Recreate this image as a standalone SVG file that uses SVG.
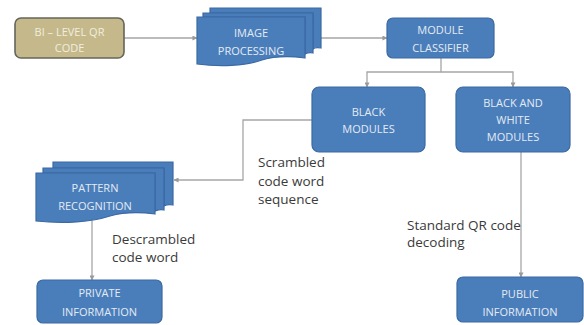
<svg xmlns="http://www.w3.org/2000/svg" width="584" height="325" viewBox="0 0 584 325">
  <defs>
    <marker id="arr" viewBox="0 0 6 6" refX="5.5" refY="3" markerWidth="5" markerHeight="5" orient="auto" markerUnits="userSpaceOnUse">
      <path d="M0,0 L6,3 L0,6 Z" fill="#9a9a9a"/>
    </marker>
  </defs>
  <style>
    .blue { fill: #4a7ebb; stroke: #3a69a3; stroke-width: 1.2; }
    .tan { fill: #c5b98c; stroke: #66655a; stroke-width: 1.6; }
    .ntxt { font-family: "Open Sans", "Liberation Sans", sans-serif; font-size: 11px; fill: #e4eaf3; text-anchor: middle; }
    .ttxt { font-family: "Open Sans", "Liberation Sans", sans-serif; font-size: 11px; fill: #f1eedd; text-anchor: middle; }
    .lbl { font-family: "Open Sans", "Liberation Sans", sans-serif; font-size: 13.5px; fill: #3a3a3a; }
    .conn { fill: none; stroke: #a6a6a6; stroke-width: 1.3; }
  </style>
  <rect width="584" height="325" fill="#ffffff"/>

  <!-- connectors -->
  <g id="connectors">
    <path class="conn" d="M124,38 H197" marker-end="url(#arr)"/>
    <path class="conn" d="M321,38 H387" marker-end="url(#arr)"/>
    <path class="conn" d="M441,58 V72 H367 V87" marker-end="url(#arr)"/>
    <path class="conn" d="M441,72 H513 V87" marker-end="url(#arr)"/>
    <path class="conn" d="M312,120 H243 V180 H174" marker-end="url(#arr)"/>
    <path class="conn" d="M92,220 V280" marker-end="url(#arr)"/>
    <path class="conn" d="M521,152 V277" marker-end="url(#arr)"/>
  </g>

  <!-- source code -->
  <g id="bilevel">
    <rect class="tan" x="15" y="18" width="109" height="40" rx="6"/>
    <text class="ttxt" x="69.5" y="36">BI – LEVEL QR</text>
    <text class="ttxt" x="69.5" y="52">CODE</text>
  </g>

  <!-- image processing (multi-document) -->
  <g id="imageprocessing">
    <path class="blue" d="M210,8 H321 V48 C315,47 314,48 313,49 V13 H210 Z"/>
    <path class="blue" d="M203,13 H313 V53 C309,52 307,53 305,54 V17 H203 Z"/>
    <path class="blue" d="M197,17 H305 V58 C290,56 275,56 262,60 C245,66 220,67 197,64 Z"/>
    <text class="ntxt" x="251" y="37">IMAGE</text>
    <text class="ntxt" x="251" y="55">PROCESSING</text>
  </g>

  <g id="classifier">
    <rect class="blue" x="387" y="18" width="107" height="40" rx="6"/>
    <text class="ntxt" x="440.5" y="34">MODULE</text>
    <text class="ntxt" x="440.5" y="52">CLASSIFIER</text>
  </g>

  <g id="blackmodules">
    <rect class="blue" x="312" y="87" width="113" height="65" rx="7"/>
    <text class="ntxt" x="368.5" y="116">BLACK</text>
    <text class="ntxt" x="368.5" y="133">MODULES</text>
  </g>

  <g id="bwmodules">
    <rect class="blue" x="456" y="87" width="114" height="65" rx="7"/>
    <text class="ntxt" x="513" y="107">BLACK AND</text>
    <text class="ntxt" x="513" y="124">WHITE</text>
    <text class="ntxt" x="513" y="141">MODULES</text>
  </g>

  <!-- pattern recognition (multi-document) -->
  <g id="patternrecognition">
    <path class="blue" d="M53,162 H173 V205 C168,204 166,205 164,206 V168 H53 Z"/>
    <path class="blue" d="M43,168 H164 V210 C160,209 158,210 155,211 V173 H43 Z"/>
    <path class="blue" d="M36,173 H155 V214 C140,212 124,212 110,216 C92,222 64,224 36,221 Z"/>
    <text class="ntxt" x="95" y="192">PATTERN</text>
    <text class="ntxt" x="95" y="210">RECOGNITION</text>
  </g>

  <g id="private">
    <rect class="blue" x="37" y="280" width="125" height="43" rx="6"/>
    <text class="ntxt" x="99.5" y="297">PRIVATE</text>
    <text class="ntxt" x="99.5" y="316">INFORMATION</text>
  </g>

  <g id="public">
    <rect class="blue" x="457" y="277" width="126" height="45" rx="6"/>
    <text class="ntxt" x="520" y="298">PUBLIC</text>
    <text class="ntxt" x="520" y="316">INFORMATION</text>
  </g>

  <!-- edge labels -->
  <g id="labels">
    <text class="lbl" x="258" y="167">Scrambled</text>
    <text class="lbl" x="258" y="186">code word</text>
    <text class="lbl" x="258" y="204">sequence</text>
    <text class="lbl" x="112" y="244">Descrambled</text>
    <text class="lbl" x="112" y="262">code word</text>
    <text class="lbl" x="407" y="230">Standard QR code</text>
    <text class="lbl" x="407" y="247">decoding</text>
  </g>
</svg>
